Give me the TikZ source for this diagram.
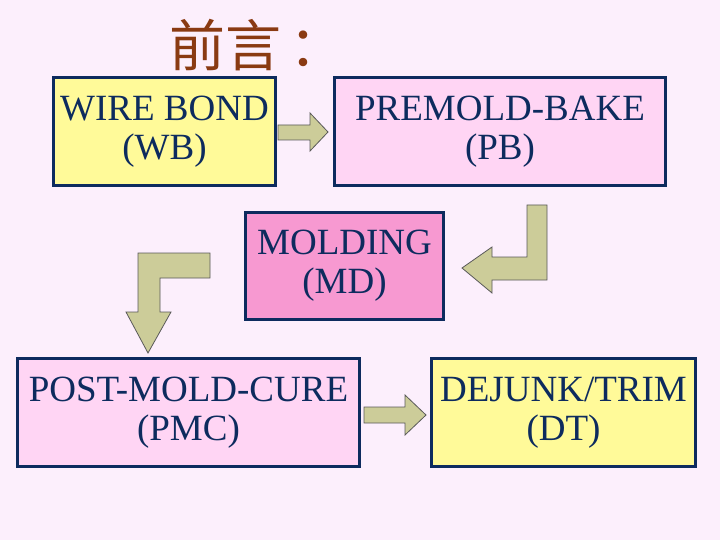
\documentclass[tikz,border=0pt]{standalone}
\usepackage{fontspec}
\setmainfont{Liberation Serif}
\newfontfamily\cjk{Noto Sans CJK SC}
\begin{document}
\begin{tikzpicture}[x=1pt,y=-1pt,
  box/.style={draw=navy,line width=3pt,align=center,text=navy,inner sep=0pt,
    font=\fontsize{37}{39}\selectfont},
  arr/.style={fill=khaki,draw=gray!70!black,line width=0.8pt}]
\definecolor{navy}{HTML}{0D2B5E}
\definecolor{khaki}{HTML}{CCCC99}
\definecolor{bg}{HTML}{FCEFFC}
\definecolor{ttl}{HTML}{8A3A12}
\fill[bg] (0,0) rectangle (720,540);
\node[text=ttl,font=\cjk\fontsize{56}{58}\selectfont,anchor=west] (t) at (166,45) {前言\hspace{8pt}：};
\node[box,fill=yellow!40,minimum width=222pt,minimum height=108pt] (wb) at (164.5,131.5) {WIRE BOND\\(WB)};
\node[box,fill=pink!60!magenta!30,minimum width=331pt,minimum height=108pt] (pb) at (500,131.5) {PREMOLD-BAKE\\(PB)};
\node[box,fill=magenta!40,minimum width=198pt,minimum height=107pt] (md) at (344.5,266) {MOLDING\\(MD)};
\node[box,fill=pink!60!magenta!30,minimum width=342pt,minimum height=108pt] (pmc) at (188.5,412.5) {POST-MOLD-CURE\\(PMC)};
\node[box,fill=yellow!40,minimum width=264pt,minimum height=108pt] (dt) at (563.5,412.5) {DEJUNK/TRIM\\(DT)};
\draw[arr] (278,125)--(310,125)--(310,113)--(328,132)--(310,151)--(310,140)--(278,140)--cycle;
\draw[arr] (527,205)--(547,205)--(547,280)--(492,280)--(492,293)--(462,268)--(492,247)--(492,257)--(527,257)--cycle;
\draw[arr] (210,253)--(210,278)--(160,278)--(160,312)--(171,312)--(148,353)--(126,312)--(138,312)--(138,253)--cycle;
\draw[arr] (364,407)--(405,407)--(405,395)--(426,415)--(405,435)--(405,423)--(364,423)--cycle;
\end{tikzpicture}
\end{document}
